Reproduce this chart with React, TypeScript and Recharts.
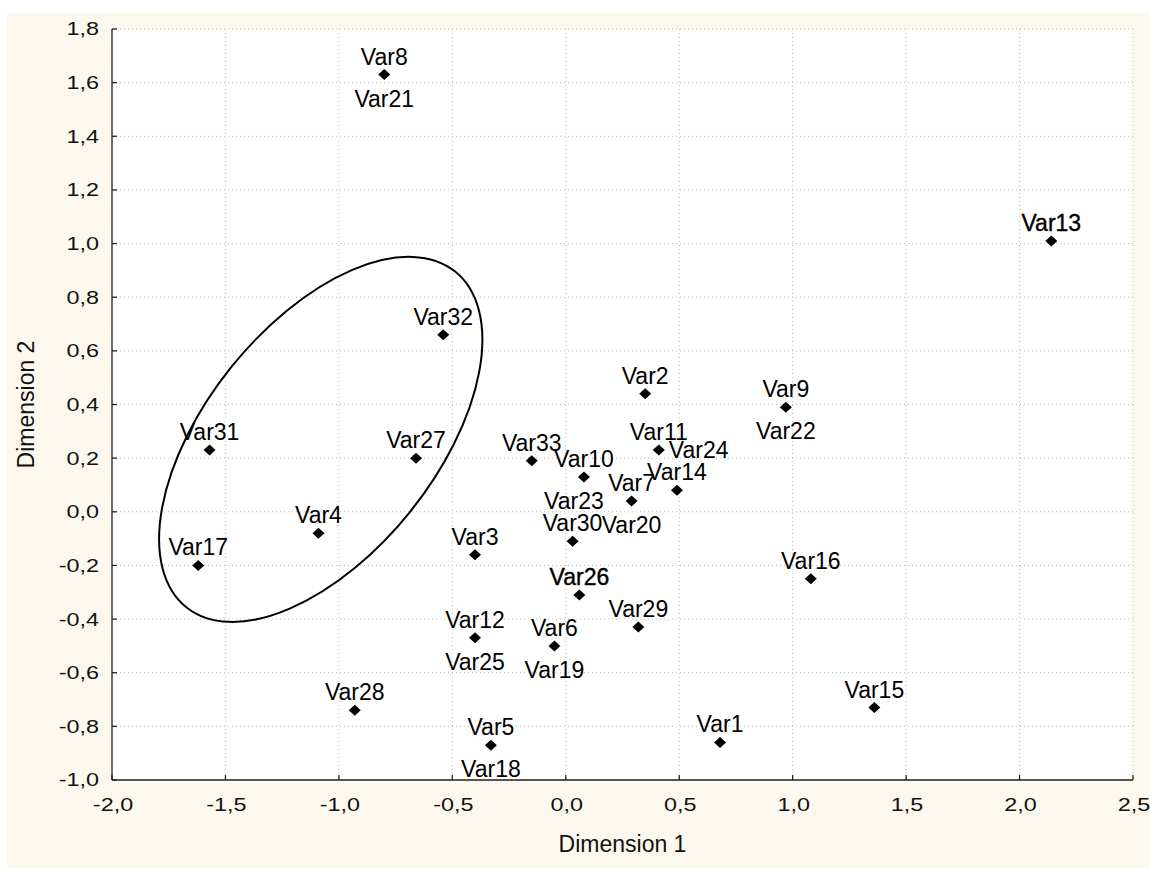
import React from "react";
import { ScatterChart, Scatter, XAxis, YAxis, CartesianGrid, ReferenceDot } from "recharts";

// MDS-style configuration: each marker carries a label above, and sometimes one below / to the right
const names = [
  "Var8", "Var13", "Var32", "Var2", "Var9", "Var31", "Var27", "Var33", "Var11",
  "Var10", "Var7", "Var14", "Var30", "Var3", "Var4", "Var17", "Var16", "Var26",
  "Var29", "Var12", "Var6", "Var28", "Var15", "Var5", "Var1",
];
const dim1 = [
  -0.8, 2.14, -0.54, 0.35, 0.97, -1.57, -0.66, -0.15, 0.41,
  0.08, 0.29, 0.49, 0.03, -0.4, -1.09, -1.62, 1.08, 0.06,
  0.32, -0.4, -0.05, -0.93, 1.36, -0.33, 0.68,
];
const dim2 = [
  1.63, 1.01, 0.66, 0.44, 0.39, 0.23, 0.2, 0.19, 0.23,
  0.13, 0.04, 0.08, -0.11, -0.16, -0.08, -0.2, -0.25, -0.31,
  -0.43, -0.47, -0.5, -0.74, -0.73, -0.87, -0.86,
];
const belowNames = [
  "Var21", "", "", "", "Var22", "", "", "", "",
  "Var23", "Var20", "", "", "", "", "", "", "",
  "", "Var25", "Var19", "", "", "Var18", "",
];
const sideNames = [
  "", "", "", "", "", "", "", "", "Var24",
  "", "", "", "", "", "", "", "", "",
  "", "", "", "", "", "", "",
];

const xTicks = [-2, -1.5, -1, -0.5, 0, 0.5, 1, 1.5, 2, 2.5];
const yTicks = [-1, -0.8, -0.6, -0.4, -0.2, 0, 0.2, 0.4, 0.6, 0.8, 1, 1.2, 1.4, 1.6, 1.8];

// centre of the hand-drawn cluster ellipse (data units)
const clusterX = -1.08;
const clusterY = 0.27;

// labels that look double-printed in the original
const heavyLabels = ["Var13", "Var26"];

const points = names.map((name, i) => ({
  name,
  x: dim1[i],
  y: dim2[i],
  below: belowNames[i],
  side: sideNames[i],
}));

const fmt = (v: number) => v.toFixed(1).replace(".", ",");

const FONT = "'Liberation Sans', Arial, sans-serif";
const labelStyle = { fontFamily: FONT, fontSize: 23, fill: "#000" };
const tickFont = { fontFamily: FONT, fontSize: 18, fill: "#111" };

const PointMark = (props: any) => {
  const { cx, cy, payload } = props;
  if (cx == null || cy == null) return null;
  const heavy = heavyLabels.includes(payload.name);
  return (
    <g>
      <polygon
        points={`${cx - 6},${cy} ${cx},${cy - 5.5} ${cx + 6},${cy} ${cx},${cy + 5.5}`}
        fill="#000"
      />
      <text
        x={cx}
        y={cy - 10}
        textAnchor="middle"
        stroke={heavy ? "#000" : "none"}
        strokeWidth={heavy ? 0.4 : 0}
        style={labelStyle}
      >
        {payload.name}
      </text>
      {payload.below ? (
        <text x={cx - (payload.below === "Var23" ? 10 : 0)} y={cy + 32} textAnchor="middle" style={labelStyle}>
          {payload.below}
        </text>
      ) : null}
      {payload.side ? (
        <text x={cx + 10} y={cy + 8} textAnchor="start" style={labelStyle}>
          {payload.side}
        </text>
      ) : null}
    </g>
  );
};

const ClusterEllipse = (props: any) => {
  const { cx, cy } = props;
  if (cx == null || cy == null) return null;
  return (
    <ellipse
      cx={cx}
      cy={cy}
      rx={215}
      ry={115}
      transform={`rotate(-51.3 ${cx} ${cy})`}
      fill="none"
      stroke="#000"
      strokeWidth={2}
    />
  );
};

// the original tick numerals are drawn noticeably wide, so stretch them horizontally
const XTick = (props: any) => (
  <text
    transform={`translate(${props.x + 1},${props.y}) scale(1.3,1)`}
    dy="0.71em"
    textAnchor="middle"
    style={tickFont}
  >
    {fmt(props.payload.value)}
  </text>
);

const YTick = (props: any) => (
  <text
    transform={`translate(${props.x},${props.y}) scale(1.3,1)`}
    dy="0.36em"
    textAnchor="end"
    style={tickFont}
  >
    {fmt(props.payload.value)}
  </text>
);

const axisStroke = { stroke: "#222", strokeWidth: 1.3 };

export default function App() {
  return (
    <div style={{ position: "absolute", left: 0, top: 0, width: 1150, height: 870, background: "#fff" }}>
      <div
        style={{ position: "absolute", left: 7, top: 13, width: 1143, height: 855, background: "#fdf8ed" }}
      />
      <div style={{ position: "absolute", left: 0, top: 0 }}>
        <ScatterChart width={1150} height={870} margin={{ top: 29, right: 17, bottom: 40, left: 0 }}>
          <CartesianGrid fill="#fff" stroke="#bcbcbc" strokeDasharray="1 3" />
          <XAxis
            type="number"
            dataKey="x"
            domain={[-2, 2.5]}
            ticks={xTicks}
            allowDataOverflow
            height={50}
            tick={XTick}
            tickSize={-5}
            tickMargin={23}
            tickLine={axisStroke}
            axisLine={axisStroke}
            label={{ value: "Dimension 1", position: "bottom", offset: 6, style: { fontFamily: FONT, fontSize: 23, fill: "#111" } }}
          />
          <XAxis
            xAxisId="top"
            orientation="top"
            type="number"
            domain={[-2, 2.5]}
            ticks={xTicks}
            allowDataOverflow
            height={0}
            tick={false}
            tickSize={-5}
            tickLine={axisStroke}
            axisLine={axisStroke}
          />
          <YAxis
            type="number"
            dataKey="y"
            domain={[-1, 1.8]}
            ticks={yTicks}
            allowDataOverflow
            width={112}
            tick={YTick}
            tickSize={-5}
            tickMargin={18}
            tickLine={axisStroke}
            axisLine={axisStroke}
            label={{
              value: "Dimension 2",
              angle: -90,
              position: "insideLeft",
              offset: 26,
              style: { textAnchor: "middle", fontFamily: FONT, fontSize: 23, fill: "#111" },
            }}
          />
          <YAxis
            yAxisId="right"
            orientation="right"
            type="number"
            domain={[-1, 1.8]}
            ticks={yTicks}
            allowDataOverflow
            width={0}
            tick={false}
            tickSize={-5}
            tickLine={axisStroke}
            axisLine={axisStroke}
          />
          <ReferenceDot x={clusterX} y={clusterY} ifOverflow="visible" shape={ClusterEllipse} />
          <Scatter data={points} shape={PointMark} isAnimationActive={false} />
        </ScatterChart>
      </div>
    </div>
  );
}
